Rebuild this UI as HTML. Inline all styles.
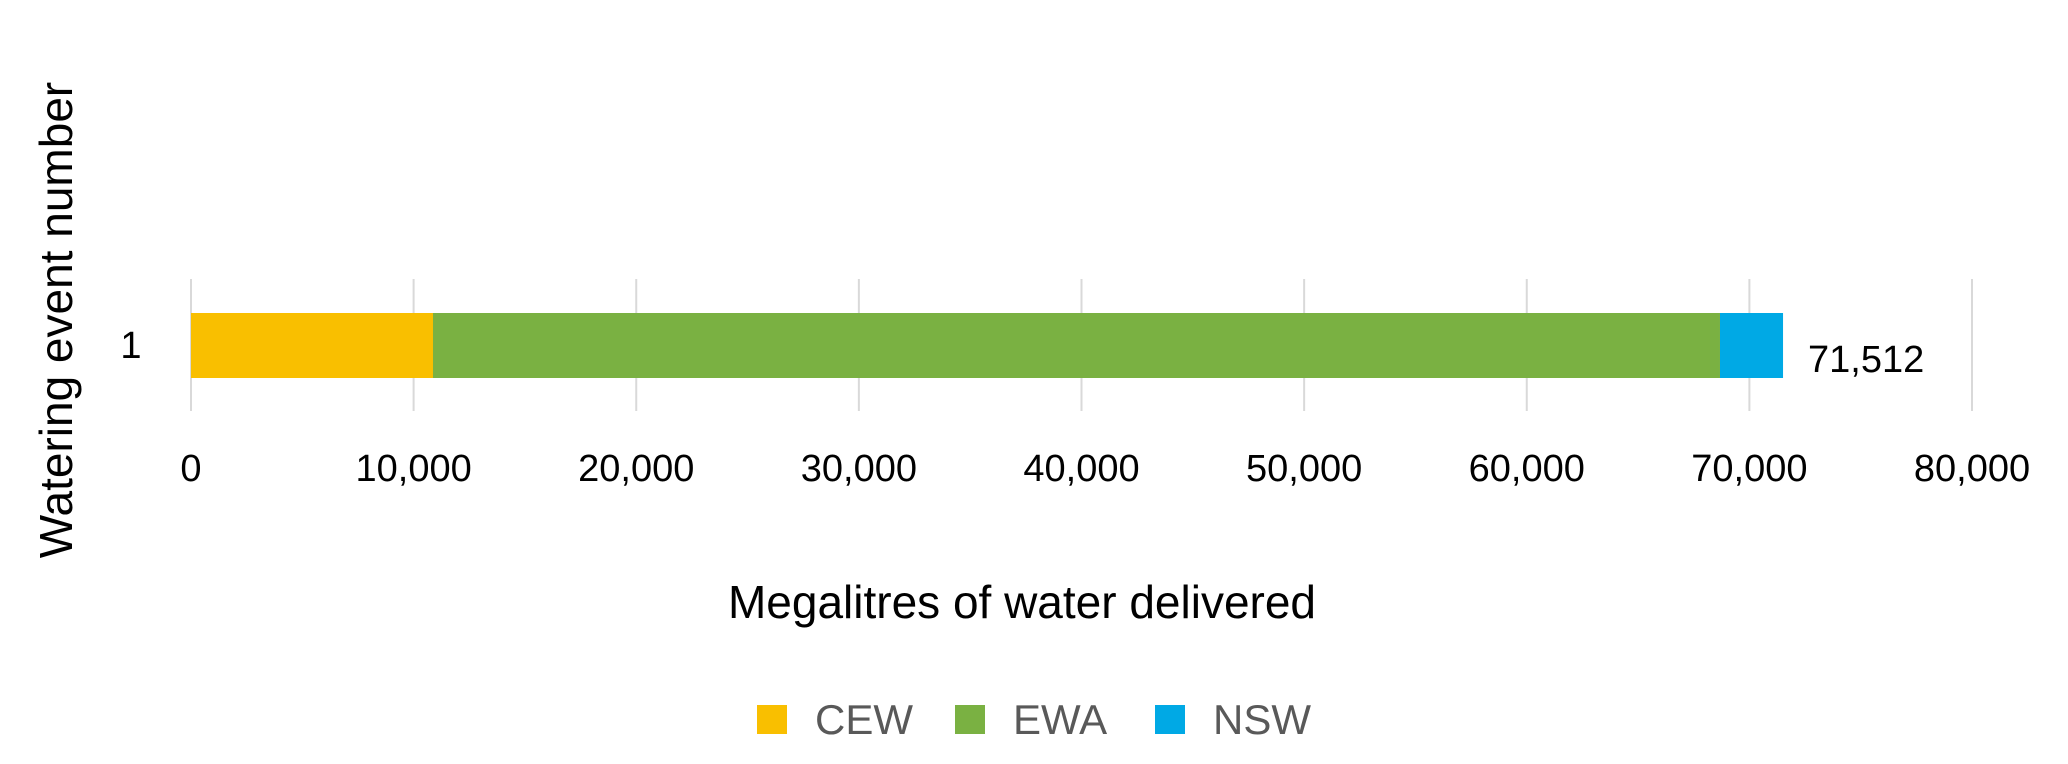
<!DOCTYPE html>
<html><head><meta charset="utf-8"><style>
html,body{margin:0;padding:0;background:#fff;}
svg{display:block;font-family:"Liberation Sans",sans-serif;}
</style></head><body>
<svg id="chart" width="2068" height="764" viewBox="0 0 2068 764">
<g id="grid"></g>
<g id="bars"></g>
<g id="xticks"></g>
<text x="131" y="358" font-size="38" text-anchor="middle" fill="#000">1</text>
<text id="total" x="1809" y="372" font-size="38" fill="#000"></text>
<text x="1022" y="618" font-size="46" text-anchor="middle" fill="#000">Megalitres of water delivered</text>
<text transform="translate(72,320) rotate(-90)" font-size="46" text-anchor="middle" fill="#000">Watering event number</text>
<g id="legend"></g>
</svg>
<script>
const categories = ["1"];
const seriesNames = ["CEW", "EWA", "NSW"];
const cewValues = [10870];
const ewaValues = [57810];
const nswValues = [2832];
const tickValues = [0,10000,20000,30000,40000,50000,60000,70000,80000];
const colors = ["#FFC000".replace("FFC000","F9BF00"), "#7AB142", "#00A9E5"];
const ns = "http://www.w3.org/2000/svg";
const x0 = 191, x1 = 1972, xMax = 80000;
const xs = v => x0 + (v / xMax) * (x1 - x0);
const barTop = 313, barH = 65;
function mk(tag, attrs, parent){const e=document.createElementNS(ns,tag);for(const k in attrs)e.setAttribute(k,attrs[k]);parent.appendChild(e);return e;}
const grid = document.getElementById('grid');
const xt = document.getElementById('xticks');
tickValues.forEach(t=>{
  const l = mk('line',{x1:xs(t),x2:xs(t),y1:279,y2:411,stroke:'#D9D9D9','stroke-width':2},grid);
  
  
  const tx = mk('text',{x:xs(t),y:481,'font-size':38,'text-anchor':'middle',fill:'#000'},xt);
  tx.textContent = t.toLocaleString('en-US');
  
  
});
const bars = document.getElementById('bars');
const series = [cewValues, ewaValues, nswValues];
categories.forEach((c,i)=>{
  let acc = 0;
  series.forEach((s,j)=>{
    const r = mk('rect',{x:xs(acc),y:barTop,width:xs(acc+s[i])-xs(acc),height:barH,fill:colors[j]},bars);
    
    
    acc += s[i];
  });
  const tot = document.getElementById('total');
  tot.setAttribute('x', xs(acc)+25);
  tot.textContent = acc.toLocaleString('en-US');
});
const leg = document.getElementById('legend');
const legX = [757, 955, 1155];
seriesNames.forEach((n,j)=>{
  const g = mk('g',{},leg);
  
  
  mk('rect',{x:legX[j],y:705,width:30,height:29,fill:colors[j]},g);
  const t = mk('text',{x:legX[j]+58,y:734,'font-size':42,fill:'#595959'},g);
  t.textContent = n;
});
</script>
</body></html>
